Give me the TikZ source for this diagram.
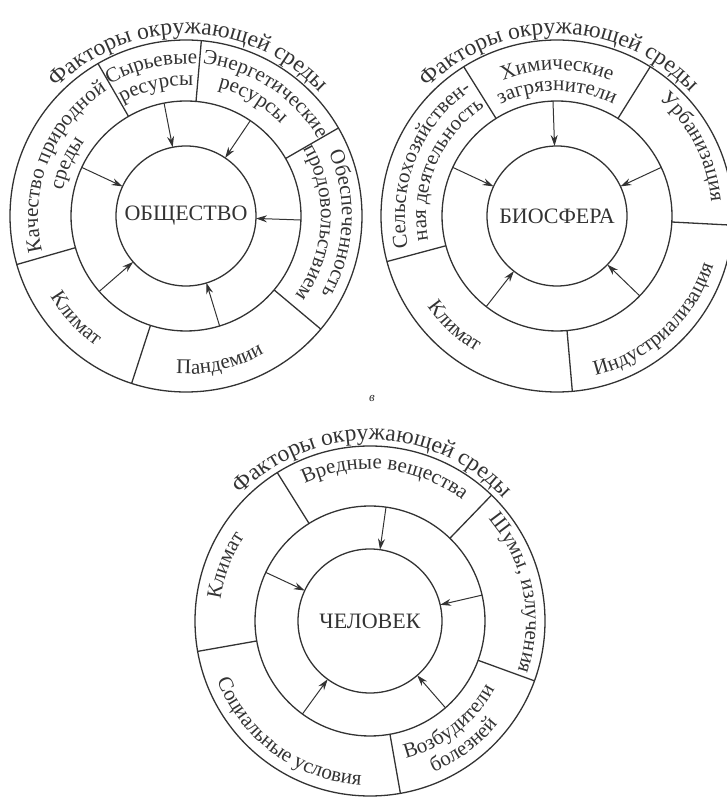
\documentclass[tikz,border=0pt]{standalone}
\usepackage{fontspec}
\setmainfont{Liberation Serif}
\usetikzlibrary{decorations.text,arrows.meta}
\definecolor{ink}{gray}{0.2}
\newcommand\lf{\fontsize{21}{25}\selectfont\color{ink}}
\newcommand\tf{\fontsize{23.5}{27}\selectfont\color{ink}}
\newcommand\cf{\fontsize{22}{26}\selectfont}
% clockwise arc text (tops outward): centre angle, baseline radius, text
\newcommand\cwtext[4][\lf]{\path[decorate,decoration={text along path,text align=center,text={|#1|#4}}] ({#2+80}:#3pt) arc[start angle={#2+80},end angle={#2-80},radius=#3pt];}
% counter-clockwise arc text (tops inward)
\newcommand\ccwtext[4][\lf]{\path[decorate,decoration={text along path,text align=center,text={|#1|#4}}] ({#2-80}:#3pt) arc[start angle={#2-80},end angle={#2+80},radius=#3pt];}
\begin{document}
\begin{tikzpicture}[x=1pt,y=1pt,
  ring/.style={circle,draw=ink,line width=1.3pt,inner sep=0pt,outer sep=0pt,text=ink},
  divider/.style={draw=ink,line width=1.3pt},
  arr/.style={draw=ink,line width=1pt,-{Stealth[length=11pt,width=7pt]}}]
\useasboundingbox (0,0) rectangle (727,798);
\clip (0,0) rectangle (727,798);

% ===== Diagram 1: ОБЩЕСТВО =====
\node[ring,minimum size=352pt] (o1) at (186,582) {};
\node[ring,minimum size=230pt] (m1) at (186,582) {};
\node[ring,minimum size=140pt,font=\cf] (i1) at (186,582) {ОБЩЕСТВО};
\foreach \a in {120,85,30,-40,-108,196} \draw[divider] (m1.\a) -- (o1.\a);
\foreach \a in {101,56,-2,-73,221,155} \draw[arr] (m1.\a) -- (i1.\a);
\begin{scope}[shift={(186,582)}]
  \cwtext[\tf]{89}{182}{Факторы окружающей среды}
  \cwtext{158}{148}{Качество природной}
  \cwtext{156}{126}{среды}
  \cwtext{103}{152}{Сырьевые}
  \cwtext{103}{130}{ресурсы}
  \cwtext{57}{153}{Энергетические}
  \cwtext{60}{132}{ресурсы}
  \cwtext{-3}{156}{Обеспеченность}
  \cwtext{-3}{135}{продовольствием}
  \ccwtext{-77}{158}{Пандемии}
  \ccwtext{223}{158}{Климат}
\end{scope}

% ===== Diagram 2: БИОСФЕРА =====
\node[ring,minimum size=352pt] (o2) at (557,582) {};
\node[ring,minimum size=230pt] (m2) at (557,582) {};
\node[ring,minimum size=140pt,font=\cf] (i2) at (557,582) {БИОСФЕРА};
\foreach \a in {122,58,-3,-85,195.5} \draw[divider] (m2.\a) -- (o2.\a);
\foreach \a in {92,25,-44,232,155} \draw[arr] (m2.\a) -- (i2.\a);
\begin{scope}[shift={(557,582)}]
  \cwtext[\tf]{89}{182}{Факторы окружающей среды}
  \cwtext{158}{152}{Сельскохозяйствен-}
  \cwtext{157}{131}{ная деятельность}
  \cwtext{90}{146}{Химические}
  \cwtext{90}{125}{загрязнители}
  \cwtext{27}{155}{Урбанизация}
  \ccwtext{-47}{164}{Индустриализация}
  \ccwtext{227}{158}{Климат}
\end{scope}

\node[font=\fontsize{13}{15}\selectfont\itshape,text=ink] (lbl) at (372,400) {в};

% ===== Diagram 3: ЧЕЛОВЕК =====
\node[ring,minimum size=350pt] (o3) at (370,177) {};
\node[ring,minimum size=230pt] (m3) at (370,177) {};
\node[ring,minimum size=144pt,font=\cf] (i3) at (370,177) {ЧЕЛОВЕК};
\foreach \a in {122,46,-20.5,-80,190} \draw[divider] (m3.\a) -- (o3.\a);
\foreach \a in {82,13,-49,234,155} \draw[arr] (m3.\a) -- (i3.\a);
\begin{scope}[shift={(370,177)}]
  \cwtext[\tf]{89}{181}{Факторы окружающей среды}
  \cwtext{84}{152}{Вредные вещества}
  \cwtext{11}{156}{Шумы, излучения}
  \ccwtext{-52}{142}{Возбудители}
  \ccwtext{-53}{164}{болезней}
  \ccwtext{234}{164}{Социальные условия}
  \cwtext{159}{151}{Климат}
\end{scope}
\end{tikzpicture}
\end{document}
